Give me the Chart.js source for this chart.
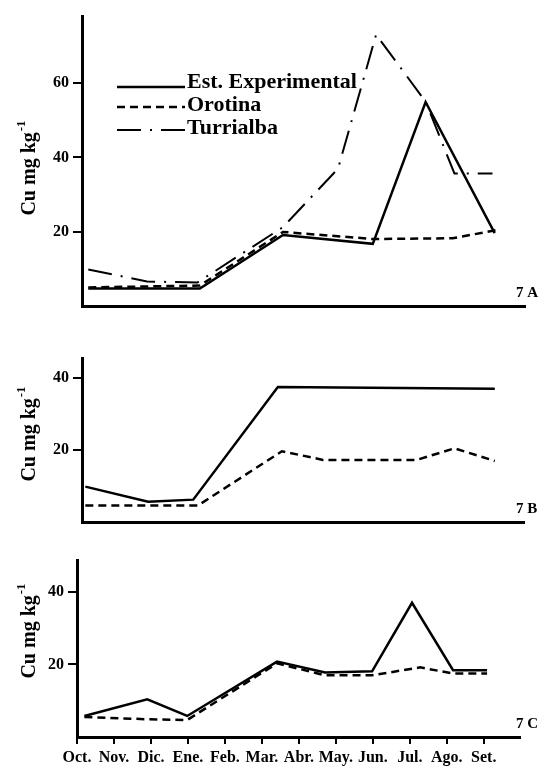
<!DOCTYPE html>
<html>
<head>
<title>Cu mg kg-1 (7 A, 7 B, 7 C)</title>
<script src="https://cdn.jsdelivr.net/npm/chart.js"></script>
<style>
    body { margin: 0; background: #fff; }
    #wrap { position: relative; width: 542px; height: 766px; }
    canvas { position: absolute; left: 0; }
</style>
</head>
<body>
<div id="wrap">
    <canvas id="chartA" width="542" height="320" style="top:0px"></canvas>
    <canvas id="chartB" width="542" height="206" style="top:330px"></canvas>
    <canvas id="chartC" width="542" height="226" style="top:540px"></canvas>
</div>
<script>
// month axis (x = month index, 0 = Oct.)
const months = ["Oct.", "Nov.", "Dic.", "Ene.", "Feb.", "Mar.", "Abr.", "May.", "Jun.", "Jul.", "Ago.", "Set."];
const seriesNames = ["Est. Experimental", "Orotina", "Turrialba"];

// 7 A
const estA_x = [0.31, 3.33, 5.58, 8.01, 9.44, 11.31];
const estA_y = [4.8, 4.8, 19.2, 16.8, 54.9, 19.7];
const oroA_x = [0.31, 3.33, 5.58, 8.01, 10.17, 11.36];
const oroA_y = [5.1, 5.6, 20.0, 18.1, 18.3, 20.5];
const turA_x = [0.31, 1.9, 3.26, 5.58, 7.07, 8.1, 9.44, 10.22, 11.25];
const turA_y = [9.9, 6.7, 6.4, 21.3, 37.0, 73.0, 55.0, 35.7, 35.7];

// 7 B
const estB_x = [0.23, 1.93, 3.15, 5.44, 11.31];
const estB_y = [9.9, 5.75, 6.3, 37.5, 37.0];
const oroB_x = [0.23, 1.93, 3.28, 5.55, 6.66, 9.2, 10.22, 11.31];
const oroB_y = [4.7, 4.7, 4.7, 19.7, 17.3, 17.3, 20.5, 17.0];

// 7 C
const estC_x = [0.2, 1.9, 2.98, 5.41, 6.71, 7.98, 9.06, 10.17, 11.09];
const estC_y = [5.8, 10.4, 5.8, 20.8, 17.8, 18.1, 37.0, 18.4, 18.4];
const oroC_x = [0.2, 1.9, 2.98, 5.41, 6.71, 7.98, 9.28, 10.17, 11.09];
const oroC_y = [5.5, 4.9, 4.7, 20.3, 17.0, 17.0, 19.2, 17.5, 17.5];

const serif = '"Liberation Serif", "DejaVu Serif", serif';

function pts(xs, ys) {
    return xs.map((x, i) => ({ x: x, y: ys[i] }));
}

const lineStyles = [
    { borderWidth: 2.5, borderDash: [] },
    { borderWidth: 2.5, borderDash: [8, 5] },
    { borderWidth: 2, borderDash: [24, 9, 2, 9] }
];

function ds(idx, xs, ys) {
    return {
        label: seriesNames[idx],
        data: pts(xs, ys),
        borderColor: '#000',
        borderWidth: lineStyles[idx].borderWidth,
        borderDash: lineStyles[idx].borderDash,
        pointRadius: 0,
        tension: 0,
        fill: false
    };
}

// panel text: y title, "7 X" label and (panel A only) the legend
function decor(cfg) {
    return {
        id: 'decor',
        afterDraw(chart) {
            const ctx = chart.ctx;
            const area = chart.chartArea;
            ctx.save();
            ctx.fillStyle = '#000';

            // y title with superscript
            ctx.save();
            ctx.translate(28, cfg.titleY);
            ctx.rotate(-Math.PI / 2);
            ctx.font = 'bold 20px ' + serif;
            const w1 = ctx.measureText('Cu mg kg').width;
            ctx.font = 'bold 13px ' + serif;
            const w2 = ctx.measureText('-1').width;
            const x0 = -(w1 + w2 + 1) / 2;
            ctx.textBaseline = 'alphabetic';
            ctx.font = 'bold 20px ' + serif;
            ctx.fillText('Cu mg kg', x0, 7);
            ctx.font = 'bold 13px ' + serif;
            ctx.fillText('-1', x0 + w1 + 1, -3);
            ctx.restore();

            // panel label
            ctx.font = 'bold 15px ' + serif;
            ctx.textBaseline = 'alphabetic';
            ctx.fillText(cfg.label, 516, area.bottom - 9);

            if (cfg.legend) {
                const rows = [88, 111, 134];
                chart.data.datasets.forEach((d, i) => {
                    ctx.save();
                    ctx.strokeStyle = '#000';
                    ctx.lineWidth = d.borderWidth;
                    ctx.setLineDash(d.borderDash);
                    ctx.beginPath();
                    const ly = rows[i] - (i === 0 ? 1 : 4);
                    ctx.moveTo(117, ly);
                    ctx.lineTo(185, ly);
                    ctx.stroke();
                    ctx.restore();
                    ctx.font = 'bold 22px ' + serif;
                    ctx.fillText(d.label, 187, rows[i]);
                });
            }
            ctx.restore();
        }
    };
}

function makePanel(id, datasets, cfg) {
    return new Chart(document.getElementById(id), {
        type: 'line',
        data: { datasets: datasets },
        options: {
            responsive: false,
            animation: false,
            devicePixelRatio: 1,
            layout: { padding: { top: cfg.padTop, left: 0, right: cfg.padRight, bottom: 0 } },
            plugins: { legend: { display: false }, tooltip: { enabled: false } },
            scales: {
                x: {
                    type: 'linear',
                    min: cfg.xMin,
                    max: cfg.xMax,
                    afterFit(scale) { scale.height = cfg.xHeight; },
                    afterBuildTicks(scale) {
                        scale.ticks = months.map((m, i) => ({ value: i }));
                    },
                    border: { display: true, color: '#000', width: 3 },
                    grid: {
                        display: true,
                        drawOnChartArea: false,
                        drawTicks: cfg.months,
                        tickLength: 7,
                        color: '#000',
                        lineWidth: 2
                    },
                    ticks: {
                        display: cfg.months,
                        autoSkip: false,
                        maxRotation: 0,
                        padding: 4,
                        color: '#000',
                        font: { family: serif, size: 16, weight: 'bold' },
                        callback: (v) => months[v] || ''
                    }
                },
                y: {
                    min: 0,
                    max: cfg.yMax,
                    afterFit(scale) { scale.width = cfg.left; },
                    afterBuildTicks(scale) {
                        scale.ticks = scale.ticks.filter(t => t.value > 0 && t.value < cfg.yMax - 1);
                    },
                    border: { display: true, color: '#000', width: 3 },
                    grid: {
                        drawOnChartArea: false,
                        tickLength: 9,
                        color: '#000',
                        lineWidth: 2
                    },
                    ticks: {
                        stepSize: 20,
                        padding: 4,
                        color: '#000',
                        font: { family: serif, size: 16, weight: 'bold' }
                    }
                }
            }
        },
        plugins: [decor(cfg)]
    });
}

makePanel('chartA', [ds(0, estA_x, estA_y), ds(1, oroA_x, oroA_y), ds(2, turA_x, turA_y)], {
    padTop: 16, padRight: 17, xHeight: 13, left: 82,
    xMin: 0.14, xMax: 12.13, yMax: 78, months: false,
    label: '7 A', titleY: 168, legend: true
});

makePanel('chartB', [ds(0, estB_x, estB_y), ds(1, oroB_x, oroB_y)], {
    padTop: 28, padRight: 18, xHeight: 13, left: 82,
    xMin: 0.14, xMax: 12.1, yMax: 45.5, months: false,
    label: '7 B', titleY: 104, legend: false
});

makePanel('chartC', [ds(0, estC_x, estC_y), ds(1, oroC_x, oroC_y)], {
    padTop: 20, padRight: 22, xHeight: 29, left: 77,
    xMin: 0, xMax: 11.98, yMax: 48.8, months: true,
    label: '7 C', titleY: 91, legend: false
});
</script>
</body>
</html>
